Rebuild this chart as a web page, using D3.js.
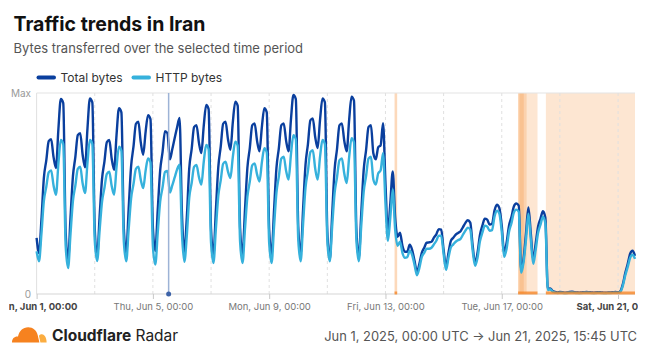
<!DOCTYPE html>
<html><head><meta charset="utf-8">
<script src="https://cdn.jsdelivr.net/npm/d3@7"></script>
<style>
html,body{margin:0;padding:0;background:#fff;}
svg{display:block;font-family:Inter,"Noto Sans",sans-serif;}
</style></head><body>
<svg id="chart" width="650" height="357"></svg>
<script>
// ---------------- DATA ----------------
const seriesStart = "2025-06-01T00:00:00Z";
const stepHours = 2;
const seriesNames = ["Total bytes", "HTTP bytes"];
// Values as % of the period maximum, one point every 2 hours from Jun 1 00:00 UTC
const totalBytes = [
  27.9,20.4,37,57.8,66.5,76,77,68.1,62.7,82.1,97,95,
  30.8,17,38.1,58.6,68.2,79,80,69.3,63,82.4,97.3,95.3,
  32.4,18.9,38.3,57.1,65.9,75.6,76.6,67.3,61.8,79.2,92.4,90.4,
  32.8,20.4,42.3,63.5,73.4,84.7,85.7,75.4,69.3,80.7,89,87,
  33.1,21.4,41.7,61.4,70.7,81,80,67,72,77.6,83,87.6,
  40,21,38,62.4,72.1,83,84,75.3,70.1,83.8,94,92,
  32.4,19.6,41.7,63.2,73.3,84.7,85.7,77,71.8,85.5,95.7,93.7,
  32.7,19.6,41.5,62.7,72.6,83.9,84.9,76.2,71,83.3,92.4,90.4,
  32.1,19.6,41.5,62.7,72.6,83.9,84.9,76.2,71,87,99,97,
  33.3,19.6,42.3,64.3,74.6,86.4,87.4,78.1,72.6,86.7,97.3,95.3,
  30.8,17,39.7,61.8,72.1,83.9,84.9,76.2,71,86.5,98.2,96.2,
  31.7,17.9,40,61.5,71.6,83,84,70,67,73,74,85,
  55,31,45,61,38,28.5,30.5,24,21,21,24.5,22,
  16.5,11,15,20.5,23,25.5,25.7,26,28,29.7,32.3,32,
  22,13.5,20.4,26.4,28,29.5,30.4,31.2,33.3,35.4,36.7,35.5,
  24,15.3,20.5,29.4,34,37.5,37,34.5,35,41.5,44.4,42.8,
  34,20.5,25.5,34,38.3,43.5,45,44,12,17.5,30,43,
  30,16.8,25,33.6,37.5,41.2,38,2.5,2.8,1.5,1.0,
  0.8,1.0,0.9,0.7,0.8,1.0,1.1,0.9,0.8,0.7,0.8,0.9,1.0,
  0.9,0.8,0.7,0.8,0.9,0.8,0.7,0.6,0.8,0.8,0.9,1.0,0.9,
  1.5,5,10.5,15,20,21.5,19
];
const httpBytes = [
  21.2,16.3,30,46.3,53.3,60.5,61.5,54,49.4,64.9,76.6,74.6,
  23.9,12.9,29.9,46.3,54,62.3,63.3,55.1,50.2,65.3,76.6,74.6,
  26.8,16.4,31.4,45.9,52.7,59.8,60.8,53.7,49.4,63.1,73.3,71.3,
  26.2,16.3,32.1,47.5,54.7,62.3,63.3,56.8,52.7,61.4,67.5,65.5,
  23.8,14.6,30.5,45.9,53.1,60.7,61.2,50.5,54,58,62,64.3,
  30,16,29,47.8,55.2,63.2,64.2,58.2,54.4,65.8,74.1,72.1,
  25.5,15.4,32.4,48.8,56.5,64.8,65.8,60.9,57.7,68.2,75.8,73.8,
  25.8,15.4,32.1,48.3,55.9,64,65,59.5,56,65.6,72.5,70.5,
  25.3,15.4,33.2,50.4,58.5,67.3,68.3,61.2,56.9,69.6,79,77,
  27.1,16.3,34.9,52.9,61.3,70.6,71.6,62.4,56.9,68.3,76.6,74.6,
  26.7,16.3,33.5,50.2,58.1,66.5,67.5,59.9,55.2,68,77.5,75.5,
  26.9,16.3,33.8,50.7,58.7,67.3,68.3,57,54.5,60,61.5,70,
  45,26.5,38,52,32,24,26,20.5,18,18.3,21.5,19.5,
  14.5,9.3,13,18.5,20.5,22.5,22.5,23,24.7,26.5,29,29,
  20,12,18,23.2,24.7,26,26.8,27.4,29.5,31.5,33,32,
  21.5,14,18,26.2,30.5,34,33.5,31.5,31.8,38.5,41.5,40,
  31,18.5,22.5,31,35.2,40.5,42,41,10.5,15.8,27,40,
  27,15,22,30.5,34.5,38.5,35,2,2.4,1.2,0.7,
  0.5,0.7,0.6,0.4,0.5,0.7,0.8,0.6,0.5,0.4,0.5,0.6,0.7,
  0.6,0.5,0.4,0.5,0.6,0.5,0.4,0.3,0.5,0.5,0.6,0.7,0.6,
  1.2,4.2,9.3,13.5,18,19.5,17.5
];
const yTickValues = [0, 100];
const yTickLabels = ["0", "Max"];
const xTickDates = ["2025-06-01","2025-06-05","2025-06-09","2025-06-13","2025-06-17","2025-06-21"];
const xTickLabels = ["Sun, Jun 1, 00:00","Thu, Jun 5, 00:00","Mon, Jun 9, 00:00","Fri, Jun 13, 00:00","Tue, Jun 17, 00:00","Sat, Jun 21, 00:00"];
const outageStarts = ["2025-06-13T07:30:00Z","2025-06-17T13:30:00Z","2025-06-17T13:30:00Z","2025-06-17T14:40:00Z","2025-06-18T12:25:00Z"];
const outageEnds   = ["2025-06-13T09:40:00Z","2025-06-18T05:30:00Z","2025-06-17T20:30:00Z","2025-06-17T18:10:00Z","2025-06-21T14:00:00Z"];
const cursorTime = "2025-06-05T13:00:00Z";
const titleText = "Traffic trends in Iran";
const subtitleText = "Bytes transferred over the selected time period";
const rangeText = "Jun 1, 2025, 00:00 UTC \u2192 Jun 21, 2025, 15:45 UTC";

// ---------------- CHART ----------------
const svg = d3.select("#chart");
const W = 650, H = 357;
const m = {left: 36.6, right: 15, top: 93, bottom: 63};
const t0 = new Date(seriesStart);
const times = totalBytes.map((_, i) => new Date(t0.getTime() + i * stepHours * 3600e3));
const tEnd = times[times.length - 1];

const x = d3.scaleUtc().domain([t0, tEnd]).range([m.left, W - m.right]);
const y = d3.scaleLinear().domain([0, 100]).range([H - m.bottom, m.top]);
const colors = ["#0a3f9e", "#36b1dc"];

// clip for axis labels (chart container edges)
svg.append("defs").append("clipPath").attr("id", "axisClip")
  .append("rect").attr("x", 9).attr("y", 280).attr("width", 629).attr("height", 40);

// title
svg.append("text").attr("x", 13.5).attr("y", 31).attr("font-size", 19.5).attr("font-weight", 700)
  .attr("fill", "#111").text(titleText);
svg.append("text").attr("x", 13.5).attr("y", 53).attr("font-size", 13).attr("fill", "#555").text(subtitleText);

// legend
const leg = svg.append("g");
const legX = [38.5, 133.5];
seriesNames.forEach((n, i) => {
  leg.append("line").attr("x1", legX[i]).attr("x2", legX[i] + 15.5).attr("y1", 77.5).attr("y2", 77.5)
    .attr("stroke", colors[i]).attr("stroke-width", 4).attr("stroke-linecap", "round");
  leg.append("text").attr("x", legX[i] + 22).attr("y", 81.5).attr("font-size", 12).attr("fill", "#333").text(n);
});

// outage shading
const sh = svg.append("g");
outageStarts.forEach((s, i) => {
  const x0 = x(new Date(s)), x1 = x(new Date(outageEnds[i]));
  sh.append("rect").attr("x", x0).attr("y", m.top).attr("width", x1 - x0).attr("height", y(0) - m.top)
    .attr("fill", "#f6821f").attr("fill-opacity", i === 0 ? 0.3 : 0.2);
});

// grid
const g = svg.append("g");
g.append("line").attr("x1", m.left).attr("x2", W - m.right).attr("y1", y(100)).attr("y2", y(100))
  .attr("stroke", "#e3e3e3");
const gridDays = d3.utcDay.every(2).range(d3.utcDay.offset(t0, 1), tEnd);
g.selectAll("line.v").data(gridDays).join("line").attr("class", "v")
  .attr("x1", d => x(d)).attr("x2", d => x(d)).attr("y1", m.top).attr("y2", y(0))
  .attr("stroke", "#e0e0e0").attr("stroke-dasharray", "3,3");
g.append("line").attr("x1", m.left).attr("x2", m.left).attr("y1", m.top).attr("y2", y(0)).attr("stroke", "#e0e0e0");

// lines
const line = d3.line().x((d, i) => x(times[i])).y(d => y(d)).curve(d3.curveMonotoneX);
[totalBytes, httpBytes].forEach((vals, i) => {
  svg.append("path").datum(vals).attr("d", line).attr("fill", "none")
    .attr("stroke", colors[i]).attr("stroke-width", 2.4).attr("stroke-linejoin", "round");
});

// baseline + outage markers on axis
svg.append("line").attr("x1", m.left).attr("x2", W - m.right).attr("y1", y(0)).attr("y2", y(0)).attr("stroke", "#d5d5d5");
outageStarts.forEach((s, i) => {
  if (i === 2 || i === 3) return;
  const x0 = x(new Date(s)), x1 = x(new Date(outageEnds[i]));
  svg.append("line").attr("x1", x0).attr("x2", Math.max(x1, x0 + 1)).attr("y1", y(0) - 1).attr("y2", y(0) - 1)
    .attr("stroke", "#f6821f").attr("stroke-opacity", 0.75).attr("stroke-width", 3);
});

// cursor
const cx = x(new Date(cursorTime));
svg.append("line").attr("x1", cx).attr("x2", cx).attr("y1", m.top).attr("y2", y(0))
  .attr("stroke", "#9db3d6").attr("stroke-width", 1.5);
svg.append("circle").attr("cx", cx).attr("cy", y(0)).attr("r", 2.5).attr("fill", "#3d63a8");

// x axis
const xAxis = d3.axisBottom(x).tickValues(xTickDates.map(d => new Date(d + "T00:00:00Z")))
  .tickFormat((d, i) => xTickLabels[i]).tickSize(5).tickPadding(4);
const xa = svg.append("g").attr("transform", `translate(0,${y(0)})`).call(xAxis);
xa.select(".domain").remove();
xa.selectAll(".tick line").attr("stroke", "#c8c8c8");
xa.selectAll(".tick text").attr("font-family", "Inter").attr("font-size", 9.5)
  .attr("clip-path", null)
  .attr("font-weight", (d, i) => (i === 0 || i === xTickLabels.length - 1) ? 700 : 400)
  .attr("fill", (d, i) => (i === 0 || i === xTickLabels.length - 1) ? "#444" : "#777");
// wrap axis in the clipping group (clip defined in page coordinates)
const clipWrap = svg.append("g").attr("clip-path", "url(#axisClip)");
clipWrap.node().appendChild(xa.node());

// y labels
svg.selectAll("text.yl").data(yTickValues).join("text").attr("class", "yl")
  .attr("x", 31).attr("y", d => y(d) + 3.5).attr("text-anchor", "end").attr("font-size", 10)
  .attr("fill", "#999").text((d, i) => yTickLabels[i]);

// footer logo
const logo = svg.append("g");
logo.append("path").attr("d", "M12,342.5 C12,338.5 14.5,336.3 18,336.6 C19,331 23,327.2 28.2,327.2 C33,327.2 36.6,330.4 37.6,334.8 L39.4,342.5 Z")
  .attr("fill", "#f6821f");
logo.append("path").attr("d", "M40.4,342.5 L38.9,335.8 C40,334.6 41.4,334.2 42.6,334.4 C45.2,335 46.6,338.5 46.6,342.5 Z")
  .attr("fill", "#fbad41");
const ft = svg.append("text").attr("x", 52).attr("y", 341).attr("font-size", 15.5).attr("fill", "#222");
ft.append("tspan").attr("font-weight", 700).text("Cloudflare");
ft.append("tspan").attr("font-weight", 400).text(" Radar");
svg.append("text").attr("x", 637).attr("y", 340.5).attr("text-anchor", "end").attr("font-size", 12.9)
  .attr("fill", "#555").text(rangeText);
</script>
</body></html>
